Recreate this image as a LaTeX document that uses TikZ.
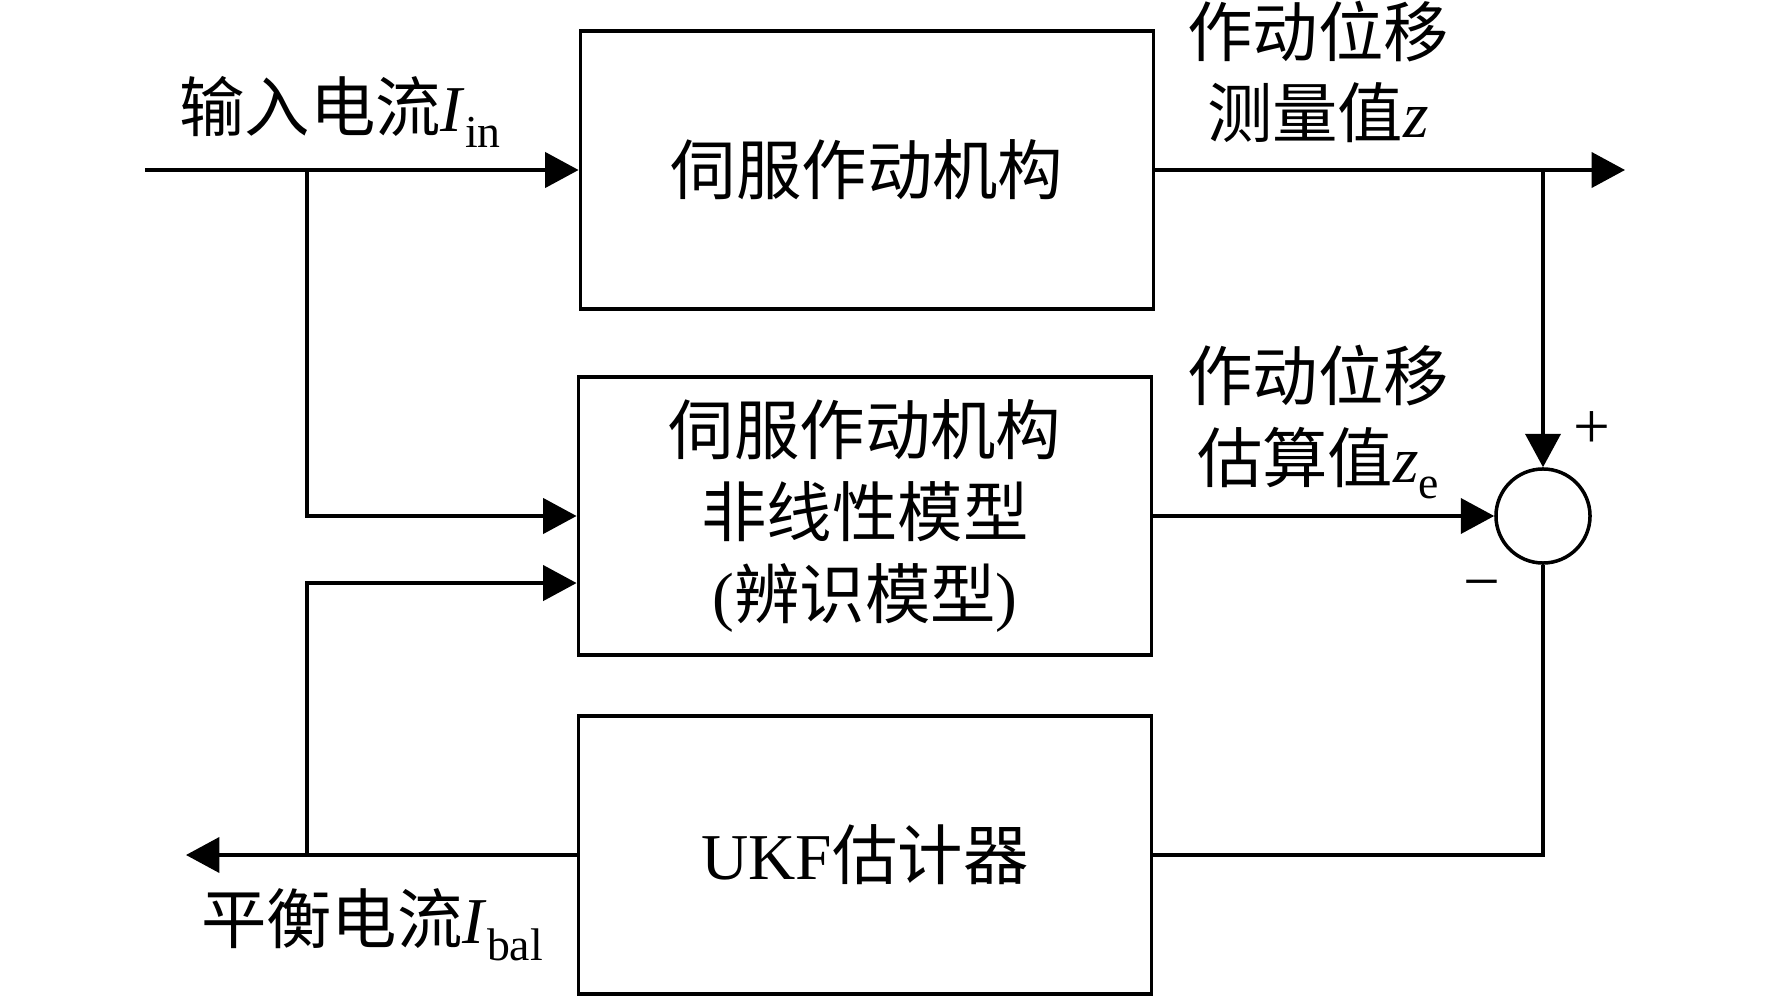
\documentclass[tikz,border=0pt]{standalone}
\usepackage{fontspec}
\setmainfont{Liberation Serif}
\newfontfamily\cjk{Noto Sans CJK SC}
\usetikzlibrary{arrows.meta,positioning}

\newcommand{\zh}[1]{{\cjk #1}}
\newcommand{\lowsub}[1]{\raisebox{-0.55ex}{\fontsize{13pt}{13pt}\selectfont #1}}

\tikzset{
  blk/.style={draw, line width=1pt, minimum width=5.73cm, minimum height=2.78cm, align=center},
  sumc/.style={draw, circle, line width=1pt, minimum size=0.94cm, inner sep=0pt},
  sig/.style={line width=1pt},
  tip/.style={-{Triangle[length=9.5pt,width=10pt]}},
}

\begin{document}
\begin{tikzpicture}[x=0.01cm, y=-0.01cm, font=\fontsize{18.6pt}{23.2pt}\selectfont]
    \useasboundingbox (0,0) rectangle (1772,997);
    % blocks
    \node[blk] (servo) at (867,170) {\zh{伺服作动机构}};
    \node[blk] (model) at (865,516) {\zh{伺服作动机构}\\\zh{非线性模型}\\(\zh{辨识模型})};
    \node[blk] (ukf) at (865,855) {UKF\zh{估计器}};
    \node[sumc] (sum) at (1543,516) {};
    % free ends and taps
    \coordinate (in) at (145,170);
    \coordinate (out) at (1625,170);
    \coordinate (bal) at (186,855);
    \coordinate (tapin) at (307,170);
    \coordinate (tapout) at (1543,170);
    \coordinate (tapbal) at (307,855);
    % signals
    \draw[sig,tip] (in) -- (servo.west);
    \draw[sig,tip] (tapin) |- (model.west);
    \draw[sig,tip] (servo.east) -- (out);
    \draw[sig,tip] (tapout) -- (sum.north);
    \draw[sig,tip] (model.east) -- (sum.west);
    \draw[sig] (sum.south) |- (ukf.east);
    \draw[sig,tip] (ukf.west) -- (bal);
    \draw[sig,tip] (tapbal) |- ([yshift=-0.67cm]model.west);
    % labels
    \node (inlbl) at (340,112) {\zh{输入电流}\textit{I}\lowsub{in}};
    \node[align=center] (zlbl) at (1318,72) {\zh{作动位移}\\\zh{测量值}\textit{z}};
    \node[align=center] (zelbl) at (1318,422) {\zh{作动位移}\\\zh{估算值}\textit{z}\lowsub{e}};
    \node (plus) at (1592,430) {+};
    \node (minus) at (1482,592) {−};
    \node (ballbl) at (372,925) {\zh{平衡电流}\textit{I}\lowsub{bal}};
\end{tikzpicture}
\end{document}
